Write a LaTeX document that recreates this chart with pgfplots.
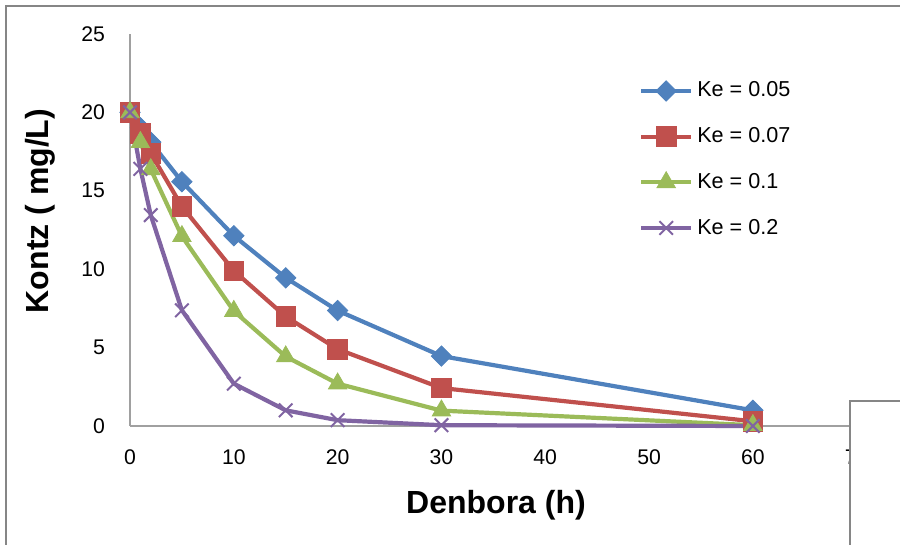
\documentclass[border=0pt]{standalone}
\usepackage{fontspec}
\setmainfont{Liberation Sans}
\usepackage{pgfplots}
\pgfplotsset{compat=1.18}
\definecolor{cBlue}{HTML}{4F81BD}
\definecolor{cRed}{HTML}{C0504D}
\definecolor{cGreen}{HTML}{9BBB59}
\definecolor{cPurple}{HTML}{8064A2}
\definecolor{cBorder}{RGB}{134,134,134}
\definecolor{cAxis}{RGB}{160,160,160}
\begin{document}
\begin{tikzpicture}
\useasboundingbox (0pt,0pt) rectangle (450pt,272.5pt);
\draw[cBorder, line width=1pt] (3pt,-5pt) -- (3pt,269.5pt) -- (460pt,269.5pt);
\begin{axis}[
  at={(65pt,59.5pt)}, anchor=origin,
  scale only axis, width=363.35pt, height=196pt,
  xmin=0, xmax=70, ymin=0, ymax=25,
  axis lines*=left,
  axis line style={cAxis, line width=0.6pt},
  xtick={0,10,...,70}, ytick={0,5,...,25},
  major tick length=0pt,
  /pgf/number format/assume math mode=true,
  tick label style={font=\fontsize{10.6}{12}\selectfont},
  yticklabel style={xshift=-9pt},
  xticklabel style={yshift=-8.5pt},
  clip=false,
  legend cell align=left,
  legend style={at={(rel axis cs:0.70,0.889)}, anchor=north west, draw=none, fill=none,
    font=\fontsize{10.8}{12}\selectfont, row sep=9.8pt, inner sep=0pt},
  legend image code/.code={\draw[mark repeat=2,mark phase=2] plot coordinates {(0pt,0pt)(12.5pt,0pt)(25pt,0pt)};},
  every axis plot/.append style={line width=2.1pt},
]
\addplot[cBlue, mark=square*, mark size=3.6pt, mark options={rotate=45, solid, line width=0.4pt}] coordinates {
(0,20) (1,19.02) (2,18.10) (5,15.58) (10,12.13) (15,9.45) (20,7.36) (30,4.46) (60,1.0)};
\addlegendentry{Ke = 0.05}
\addplot[cRed, mark=square*, mark size=4.9pt, mark options={solid, line width=0.4pt}] coordinates {
(0,20) (1,18.65) (2,17.39) (5,14.0) (10,9.9) (15,6.98) (20,4.9) (30,2.42) (60,0.3)};
\addlegendentry{Ke = 0.07}
\addplot[cGreen, mark=triangle*, mark size=5.3pt, mark options={solid, line width=0.4pt}] coordinates {
(0,20) (1,18.1) (2,16.37) (5,12.1) (10,7.33) (15,4.43) (20,2.7) (30,0.98) (60,0.05)};
\addlegendentry{Ke = 0.1}
\addplot[cPurple, mark=x, mark size=4.8pt, mark options={solid, line width=1pt}] coordinates {
(0,20) (1,16.4) (2,13.45) (5,7.38) (10,2.7) (15,1.0) (20,0.37) (30,0.05) (60,0.0)};
\addlegendentry{Ke = 0.2}
\end{axis}
\node[font=\bfseries\fontsize{16}{18}\selectfont] at (248pt,20pt) {Denbora (h)};
\node[font=\bfseries\fontsize{16}{18}\selectfont, rotate=90] at (20pt,167pt) {Kontz ( mg/L)};
\draw[cBorder, line width=1pt, fill=white] (425pt,-5pt) -- (425pt,72pt) -- (460pt,72pt) -- (460pt,-5pt);
\end{tikzpicture}
\end{document}
